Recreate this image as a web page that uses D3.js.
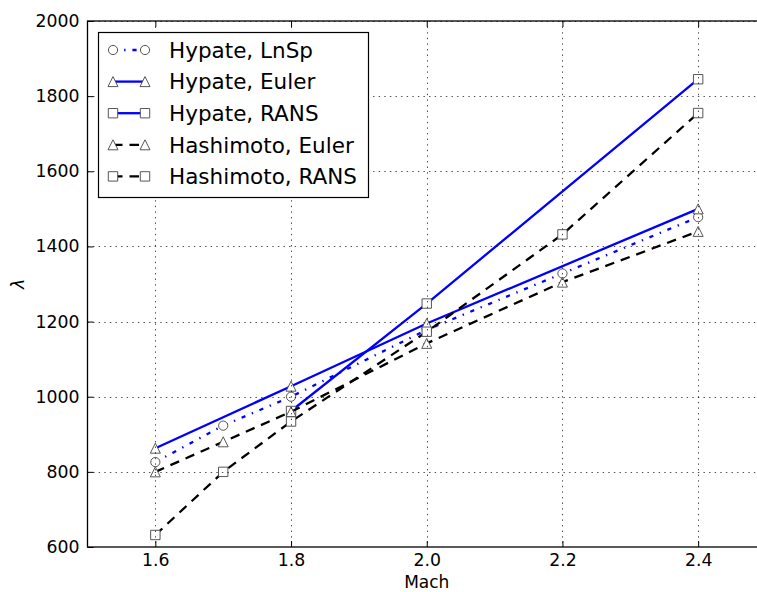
<!DOCTYPE html>
<html>
<head>
<meta charset="utf-8">
<script src="https://cdn.jsdelivr.net/npm/d3@7"></script>
<style>
  html, body { margin: 0; padding: 0; background: #fff; }
  svg { display: block; }
  text { font-family: "DejaVu Sans", sans-serif; fill: #000; }
</style>
</head>
<body>
<div id="chart"></div>
<script>
// Wavelength λ versus Mach number for the Hypate and Hashimoto computations
const seriesNames = ["Hypate, LnSp", "Hypate, Euler", "Hypate, RANS", "Hashimoto, Euler", "Hashimoto, RANS"];

const machLnSp = [1.6, 1.7, 1.8, 2.0, 2.2, 2.4];
const lambdaLnSp = [826, 923, 1000, 1178, 1328, 1478];

const machHypEuler = [1.6, 1.8, 2.0, 2.4];
const lambdaHypEuler = [863, 1028, 1195, 1500];

const machHypRans = [1.8, 2.0, 2.4];
const lambdaHypRans = [962, 1248, 1845];

const machHashEuler = [1.6, 1.7, 1.8, 2.0, 2.2, 2.4];
const lambdaHashEuler = [800, 880, 960, 1142, 1305, 1440];

const machHashRans = [1.6, 1.7, 1.8, 2.0, 2.2, 2.4];
const lambdaHashRans = [632, 800, 934, 1173, 1432, 1755];

const xTicks = [1.6, 1.8, 2.0, 2.2, 2.4];
const yTicks = [600, 800, 1000, 1200, 1400, 1600, 1800, 2000];
const xDomain = [1.5, 2.5];
const yDomain = [600, 2000];

const W = 757, H = 592;
const plot = { left: 87.5, right: 766, top: 21, bottom: 547 };

const styles = [
  { color: "#0000ff", dash: "4.2,6.9,1.4,6.9", marker: "circle" },
  { color: "#0000ff", dash: null, marker: "triangle" },
  { color: "#0000ff", dash: null, marker: "square" },
  { color: "#000000", dash: "9.5,7", marker: "triangle" },
  { color: "#000000", dash: "9.5,7", marker: "square" }
];

const series = [
  { x: machLnSp, y: lambdaLnSp },
  { x: machHypEuler, y: lambdaHypEuler },
  { x: machHypRans, y: lambdaHypRans },
  { x: machHashEuler, y: lambdaHashEuler },
  { x: machHashRans, y: lambdaHashRans }
].map((s, i) => ({
  name: seriesNames[i],
  style: styles[i],
  points: s.x.map((m, j) => ({ mach: m, lambda: s.y[j] }))
}));

const x = d3.scaleLinear().domain(xDomain).range([plot.left, plot.right]);
const y = d3.scaleLinear().domain(yDomain).range([plot.bottom, plot.top]);

const svg = d3.select("#chart").append("svg")
  .attr("width", W).attr("height", H);

svg.append("defs").append("clipPath").attr("id", "plot-clip")
  .append("rect")
  .attr("x", plot.left).attr("y", plot.top)
  .attr("width", plot.right - plot.left).attr("height", plot.bottom - plot.top);

const symbolFor = {
  circle: d3.symbol().type(d3.symbolCircle).size(Math.PI * 4.6 * 4.6),
  square: d3.symbol().type(d3.symbolSquare).size(9.4 * 9.4),
  triangle: null
};
function markerPath(kind) {
  if (kind === "triangle") {
    const h = 5;
    return `M0,${-h}L${h},${h}L${-h},${h}Z`;
  }
  return symbolFor[kind]();
}

const line = d3.line().x(d => x(d.mach)).y(d => y(d.lambda));

// data lines and markers, drawn series by series
const dataLayer = svg.append("g").attr("clip-path", "url(#plot-clip)");
series.forEach(s => {
  const g = dataLayer.append("g");
  g.append("path")
    .datum(s.points)
    .attr("d", line)
    .attr("fill", "none")
    .attr("stroke", s.style.color)
    .attr("stroke-width", 2.3)
    .attr("stroke-dasharray", s.style.dash)
    .attr("stroke-linejoin", "round");
  g.selectAll(".mk").data(s.points).join("path")
    .attr("class", "mk")
    .attr("d", markerPath(s.style.marker))
    .attr("transform", d => `translate(${x(d.mach)},${y(d.lambda)})`)
    .attr("fill", "#fff")
    .attr("stroke", "#444")
    .attr("stroke-width", 0.9);
});

// dotted grid on top of the data
const grid = svg.append("g").attr("clip-path", "url(#plot-clip)")
  .attr("stroke", "#000").attr("stroke-width", 0.7).attr("stroke-dasharray", "1.4,4.2");
grid.selectAll(".gx").data(xTicks).join("line")
  .attr("x1", d => Math.round(x(d)) + 0.5).attr("x2", d => Math.round(x(d)) + 0.5)
  .attr("y1", plot.top).attr("y2", plot.bottom);
grid.selectAll(".gy").data(yTicks).join("line")
  .attr("x1", plot.left).attr("x2", plot.right)
  .attr("y1", d => Math.round(y(d)) + 0.5).attr("y2", d => Math.round(y(d)) + 0.5);

// axes: tick labels below/left, inward ticks on all four sides
const xAxis = d3.axisBottom(x).tickValues(xTicks).tickFormat(d3.format(".1f")).tickSizeInner(-6).tickSizeOuter(0).tickPadding(7);
const xAxisTop = d3.axisTop(x).tickValues(xTicks).tickFormat("").tickSizeInner(-6).tickSizeOuter(0);
const yAxis = d3.axisLeft(y).tickValues(yTicks).tickFormat(d3.format("d")).tickSizeInner(-6).tickSizeOuter(0).tickPadding(8);
const yAxisRight = d3.axisRight(y).tickValues(yTicks).tickFormat("").tickSizeInner(-6).tickSizeOuter(0);

function styleAxis(g) {
  g.select(".domain").remove();
  g.selectAll(".tick line").attr("stroke", "#000").attr("stroke-width", 1);
  g.selectAll(".tick text").attr("font-size", "17.3px").attr("font-family", "DejaVu Sans");
}

svg.append("g").attr("transform", `translate(0,${plot.bottom})`).call(xAxis).call(styleAxis);
svg.append("g").attr("transform", `translate(0,${plot.top})`).call(xAxisTop).call(styleAxis);
svg.append("g").attr("transform", `translate(${plot.left},0)`).call(yAxis).call(styleAxis);
svg.append("g").attr("transform", `translate(${plot.right},0)`).call(yAxisRight).call(styleAxis);

// frame
svg.append("rect")
  .attr("x", plot.left).attr("y", plot.top)
  .attr("width", plot.right - plot.left).attr("height", plot.bottom - plot.top)
  .attr("fill", "none").attr("stroke", "#000").attr("stroke-width", 1.3);

// axis titles
svg.append("text")
  .attr("x", (plot.left + plot.right) / 2).attr("y", 588)
  .attr("text-anchor", "middle").attr("font-size", "17px")
  .text("Mach");
svg.append("text")
  .attr("transform", `translate(24,${(plot.top + plot.bottom) / 2}) rotate(-90)`)
  .attr("text-anchor", "middle").attr("font-size", "17.3px").attr("font-style", "italic")
  .text("λ");

// legend
const legend = svg.append("g");
legend.append("rect")
  .attr("x", 98.5).attr("y", 32.5).attr("width", 270).attr("height", 165)
  .attr("fill", "#fff").attr("stroke", "#000").attr("stroke-width", 1.2);
const rowY = i => 50 + i * 31.6;
series.forEach((s, i) => {
  const g = legend.append("g").attr("transform", `translate(0,${rowY(i)})`);
  const pts = [113, 145];
  g.append("line")
    .attr("x1", pts[0]).attr("x2", pts[1]).attr("y1", 0).attr("y2", 0)
    .attr("stroke", s.style.color).attr("stroke-width", 2.3)
    .attr("stroke-dasharray", s.style.dash);
  pts.forEach(px => {
    g.append("path")
      .attr("d", markerPath(s.style.marker))
      .attr("transform", `translate(${px},0)`)
      .attr("fill", "#fff").attr("stroke", "#444").attr("stroke-width", 0.9);
  });
  g.append("text")
    .attr("x", 169).attr("y", 0).attr("dy", "0.36em")
    .attr("font-size", "21.5px")
    .text(s.name);
});
</script>
</body>
</html>
